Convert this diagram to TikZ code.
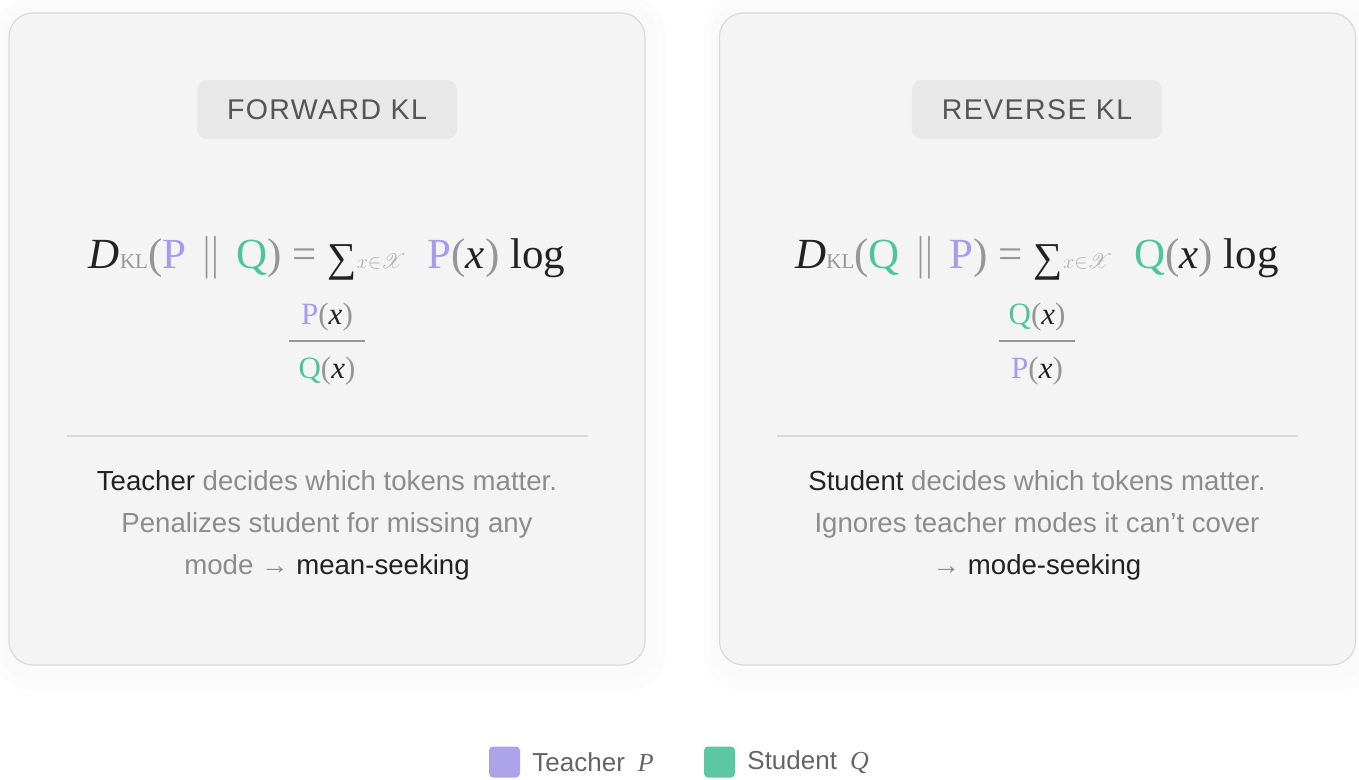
\RequirePackage{fix-cm}
\documentclass[tikz,border=0pt]{standalone}
\usepackage{amsmath}
\usepackage{fontspec}
\usepackage{mathrsfs}
\usetikzlibrary{positioning}
\setmainfont{Liberation Sans}
\newfontfamily\serifkl{Liberation Serif}
\newfontfamily\badgefont[LetterSpace=5]{Liberation Sans}

\definecolor{teacher}{RGB}{168,155,236}
\definecolor{student}{RGB}{78,196,154}
\definecolor{teachersq}{RGB}{173,163,232}
\definecolor{studentsq}{RGB}{92,199,163}
\definecolor{ink}{RGB}{34,34,34}
\definecolor{mgray}{RGB}{150,150,150}
\definecolor{lgray}{RGB}{175,175,175}
\definecolor{bodygray}{RGB}{140,140,140}
\definecolor{cardfill}{RGB}{244,244,244}
\definecolor{cardline}{RGB}{218,218,218}
\definecolor{glowcol}{RGB}{250,250,250}
\definecolor{glowout}{RGB}{252,252,252}
\definecolor{badgefill}{RGB}{232,232,232}
\definecolor{badgeink}{RGB}{85,85,85}
\definecolor{legendink}{RGB}{100,100,100}

\newcommand{\tP}{\textcolor{teacher}{P}}
\newcommand{\sQ}{\textcolor{student}{Q}}
\newcommand{\ofx}{\textcolor{mgray}{(}\textcolor{ink}{\textit{x}}\textcolor{mgray}{)}}
\newcommand{\kleq}[2]{\textit{D}{\fontsize{21}{21}\selectfont\textcolor{mgray}{KL}}%
  \textcolor{mgray}{(}#1\,\,\textcolor{mgray}{$\|$}\,\,#2\textcolor{mgray}{)} \textcolor{mgray}{=} %
  \raisebox{-3pt}{\fontsize{41}{41}\selectfont ∑}%
  {\fontsize{20}{20}\selectfont\textcolor{lgray}{$x{\in}\mathscr{X}$}}\,\,\,#1\ofx{} log}
\newcommand{\klfrac}[2]{\renewcommand{\arraystretch}{1.4}\setlength{\arrayrulewidth}{1.6pt}%
  \setlength{\tabcolsep}{10pt}\begin{tabular}{c}#1\ofx\\\hline #2\ofx\end{tabular}}

\begin{document}
\begin{tikzpicture}[x=1pt,y=-1pt,
    halo/.style={fill=glowout, rounded corners=36pt, minimum width=672pt, minimum height=692pt},
    glow/.style={fill=glowcol, rounded corners=30pt, minimum width=656pt, minimum height=676pt},
    card/.style={draw=cardline, fill=cardfill, line width=1.2pt, rounded corners=24pt,
      minimum width=636pt, minimum height=652pt},
    badge/.style={fill=badgefill, rounded corners=10pt, minimum height=59pt, inner xsep=30pt,
      text=badgeink, font=\badgefont\fontsize{28.5}{28.5}\selectfont},
    formula/.style={text=ink, font=\serifkl\fontsize{43}{48}\selectfont, inner sep=0pt},
    fraction/.style={text=mgray, font=\serifkl\fontsize{31}{37}\selectfont, inner sep=0pt},
    sep/.style={draw=cardline, line width=1.5pt},
    body/.style={text=bodygray, align=center, font=\fontsize{27.6}{42}\selectfont},
    swatch/.style={rounded corners=4pt, minimum size=31pt, inner sep=0pt},
    legend/.style={text=legendink, font=\fontsize{26}{26}\selectfont, inner sep=0pt}]
   \useasboundingbox (0,0) rectangle (1359,779);

   % forward KL card
   \node[halo] (fwdhalo) at (330,344) {};
   \node[glow] (fwdglow) at (329,342) {};
   \node[card] (fwdcard) at (327,339) {};
   \node[badge] (fwdbadge) at (327,109.5) {FORWARD KL};
   \node[formula, anchor=base] (fwdeq) at (327,268) {\kleq{\tP}{\sQ}};
   \node[fraction] (fwdfrac) at (327,341) {\klfrac{\tP}{\sQ}};
   \coordinate (fwdsepl) at (67,436);
   \coordinate (fwdsepr) at (588,436);
   \draw[sep] (fwdsepl) to (fwdsepr);
   \node[body] (fwdtext) at (327,525)
     {\textcolor{ink}{Teacher} decides which tokens matter.\\
      Penalizes student for missing any\\
      mode → \textcolor{ink}{mean-seeking}};

   % reverse KL card
   \node[halo] (revhalo) at (1040,344) {};
   \node[glow] (revglow) at (1039,342) {};
   \node[card] (revcard) at (1037.5,339) {};
   \node[badge] (revbadge) at (1037,109.5) {REVERSE KL};
   \node[formula, anchor=base] (reveq) at (1037,268) {\kleq{\sQ}{\tP}};
   \node[fraction] (revfrac) at (1037,341) {\klfrac{\sQ}{\tP}};
   \coordinate (revsepl) at (777,436);
   \coordinate (revsepr) at (1298,436);
   \draw[sep] (revsepl) to (revsepr);
   \node[body] (revtext) at (1037,525)
     {\textcolor{ink}{Student} decides which tokens matter.\\
      Ignores teacher modes it can't cover\\
      → \textcolor{ink}{mode-seeking}};

   % legend
   \node[swatch, fill=teachersq] (tsq) at (504.5,762) {};
   \node[legend, right=12pt of tsq] (tlab) {Teacher\enspace{\serifkl\itshape P}};
   \node[swatch, fill=studentsq] (ssq) at (719.5,762) {};
   \node[legend, right=12pt of ssq] (slab) {Student\enspace{\serifkl\itshape Q}};
\end{tikzpicture}
\end{document}
